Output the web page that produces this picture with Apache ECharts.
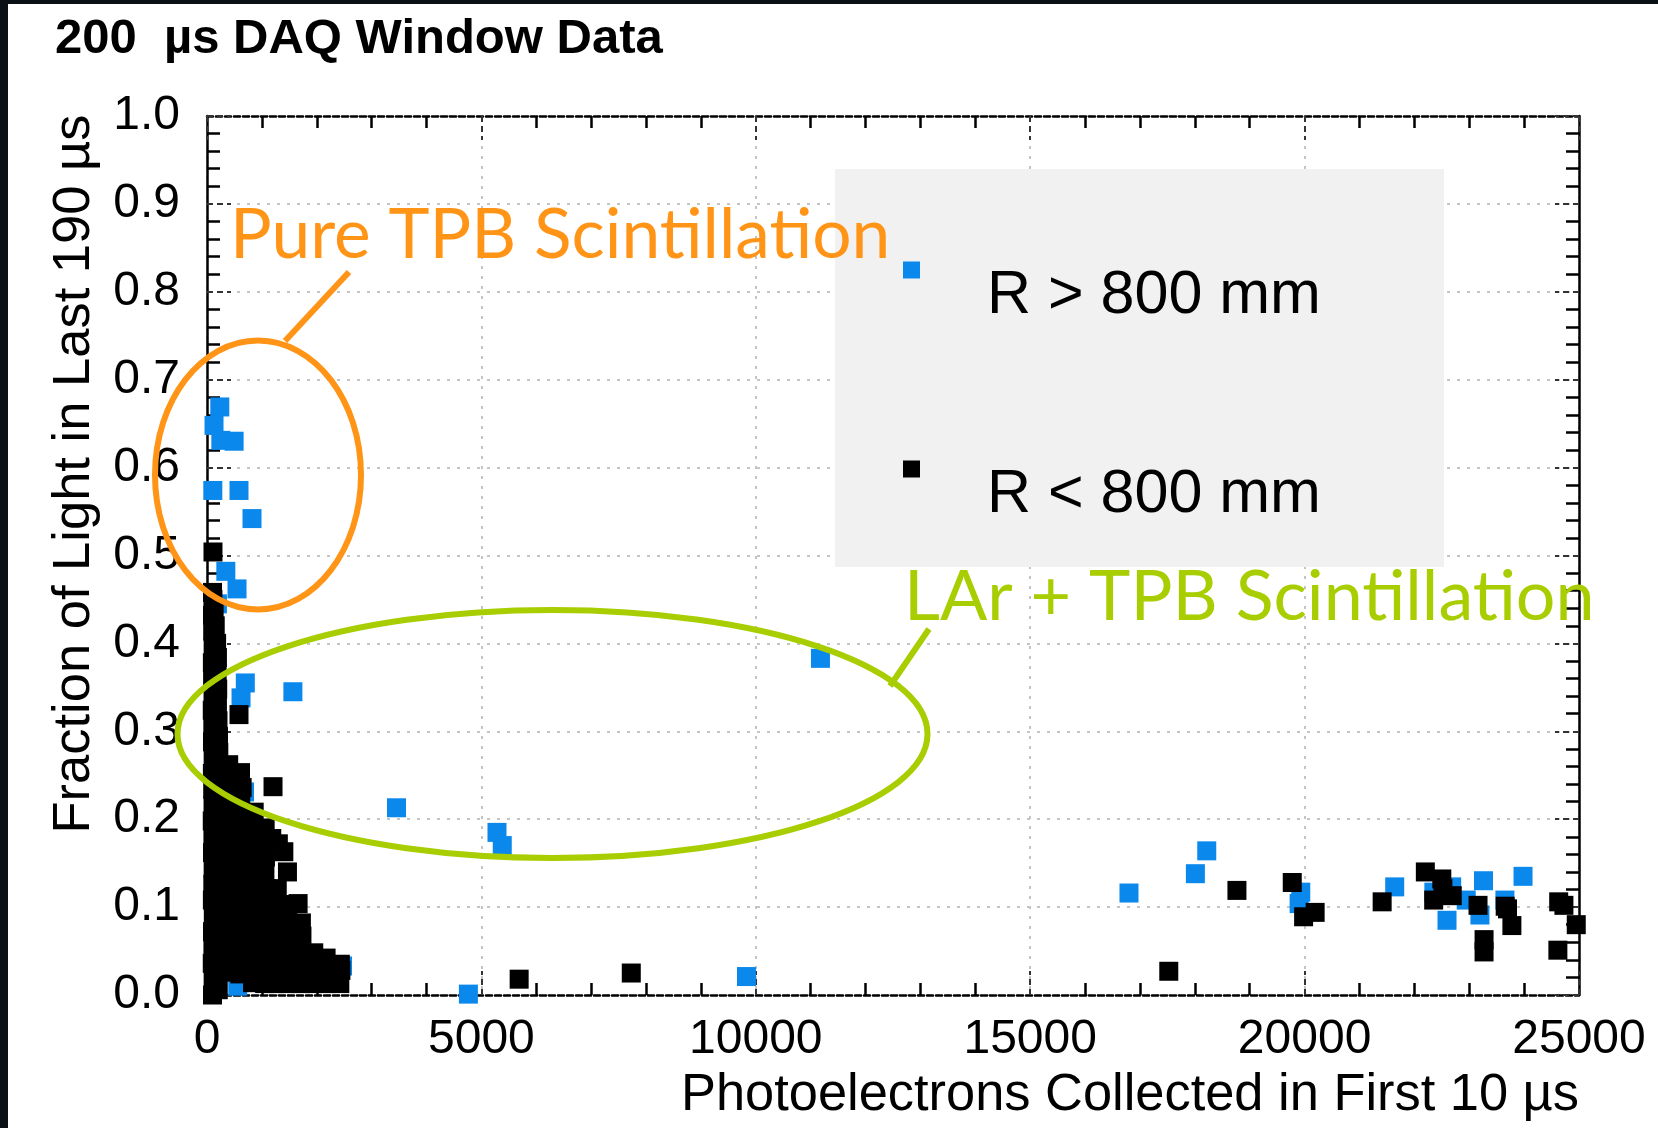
<!DOCTYPE html>
<html>
<head>
<meta charset="utf-8">
<script src="https://cdn.jsdelivr.net/npm/echarts@6/dist/echarts.min.js"></script>
<style>
html,body{margin:0;padding:0;background:#0b1014;}
#bg{position:absolute;left:8px;top:4px;right:0;bottom:0;background:#fff;}
#chart{position:absolute;left:0;top:0;width:1658px;height:1128px;}
</style>
</head>
<body>
<div id="bg"></div>
<div id="chart"></div>
<script>
// ---- data (x: photoelectrons in first 10 us, y: fraction of light in last 190 us) ----
const titleText = '200  µs DAQ Window Data';
const xTitle = 'Photoelectrons Collected in First 10 µs';
const yTitle = 'Fraction of Light in Last 190 µs';
const seriesNames = ['R > 800 mm', 'R < 800 mm'];
const xTicks = [0, 5000, 10000, 15000, 20000, 25000];
const yTicks = [0.0, 0.1, 0.2, 0.3, 0.4, 0.5, 0.6, 0.7, 0.8, 0.9, 1.0];
const annotations = ['Pure TPB Scintillation', 'LAr + TPB Scintillation'];

// R > 800 mm (blue)
const outerPoints = [
  [233,0.669],[128,0.648],[252,0.631],[494,0.630],[106,0.574],[583,0.574],[820,0.542],
  [343,0.482],[547,0.462],[190,0.445],
  [698,0.355],[620,0.338],[1565,0.345],
  [683,0.231],[1126,0.177],[1048,0.151],[2150,0.040],[2469,0.033],[560,0.010],
  [3453,0.213],[5284,0.185],[5380,0.170],[4763,0.001],[9830,0.021],[11178,0.383],
  [16800,0.116],[18010,0.138],[18217,0.164],
  [19930,0.117],[19900,0.104],[21642,0.123],
  [22680,0.123],[22355,0.117],[22595,0.085],[22945,0.108],[23195,0.091],
  [23260,0.130],[23650,0.108],[23980,0.135]
];

// R < 800 mm (black) — isolated events
const innerIsolated = [
  [109,0.504],[583,0.319],[610,0.253],[1203,0.237],
  [5688,0.018],[7731,0.025],[17525,0.027],
  [18767,0.119],[19775,0.128],[19982,0.089],[20192,0.094],[21413,0.106],
  [22200,0.140],[22500,0.132],[22352,0.108],[22690,0.113],[22520,0.121],
  [23160,0.102],[23270,0.063],[23270,0.049],[23655,0.101],[23697,0.098],[23777,0.079],
  [24630,0.106],[24725,0.102],[24615,0.051],[24950,0.080]
];

// R < 800 mm (black) — dense low-PE band, read column by column
const innerBand = [
  [100,0.000],[112,0.018],[96,0.036],[108,0.054],[100,0.072],[115,0.090],[98,0.108],[106,0.126],
  [112,0.144],[100,0.162],[108,0.180],[96,0.198],[110,0.216],[104,0.234],[98,0.252],[112,0.270],
  [100,0.288],[106,0.306],[96,0.324],[110,0.342],[102,0.360],[98,0.378],[112,0.396],[104,0.414],
  [100,0.432],[108,0.450],[100,0.458],
  [205,0.006],[190,0.024],[215,0.042],[200,0.060],[185,0.078],[210,0.096],[195,0.114],[220,0.132],
  [205,0.150],[190,0.168],[215,0.186],[200,0.204],[210,0.222],[195,0.240],[205,0.258],[215,0.276],
  [210,0.294],[200,0.312],[190,0.330],[195,0.348],[185,0.366],[190,0.384],[175,0.400],[150,0.420],
  [130,0.440],
  [390,0.026],[410,0.044],[380,0.062],[420,0.080],[400,0.098],[385,0.116],[415,0.134],[395,0.152],
  [405,0.170],[390,0.188],[420,0.206],[400,0.224],[380,0.242],[395,0.262],
  [600,0.024],[630,0.042],[615,0.060],[640,0.078],[605,0.096],[625,0.114],[610,0.132],[635,0.150],
  [620,0.168],[600,0.186],[630,0.204],[615,0.222],[640,0.236],
  [830,0.014],[850,0.032],[820,0.050],[860,0.068],[840,0.086],[825,0.104],[855,0.122],[835,0.140],
  [850,0.158],[820,0.176],[845,0.194],[860,0.208],
  [1050,0.013],[1070,0.031],[1040,0.049],[1080,0.067],[1060,0.085],[1045,0.103],[1075,0.121],
  [1055,0.139],[1065,0.157],[1050,0.175],[1060,0.190],
  [1260,0.013],[1285,0.031],[1255,0.049],[1290,0.067],[1270,0.085],[1250,0.103],[1280,0.121],
  [1180,0.178],[1300,0.172],[1400,0.163],[1466,0.140],
  [1460,0.013],[1480,0.031],[1450,0.049],[1490,0.067],[1470,0.085],[1455,0.103],
  [1710,0.013],[1735,0.031],[1700,0.049],[1730,0.067],[1720,0.082],[1660,0.104],
  [1940,0.013],[1960,0.031],[1945,0.048],
  [2180,0.013],[2200,0.030],[2170,0.042],
  [2420,0.013],[2440,0.028],[2430,0.035]
];
const innerPoints = innerBand.concat(innerIsolated);

// ---- styling ----
const BLUE = '#0a88ec';
const ORANGE = '#ff9416';
const GREEN = '#a8cd00';
const FONT = "'Liberation Sans', Arial, Helvetica, sans-serif";
const GRID = {left: 207, top: 116, width: 1372, height: 879};
// legend icon: square sitting above the text's centre line
const LEGEND_ICON = 'path://M0,0L17,0L17,17L0,17Z M0,69L0.01,69L0,69Z';

const chart = echarts.init(document.getElementById('chart'), null, {renderer: 'canvas'});

function mainAxis(extra) {
  return Object.assign({
    type: 'value',
    axisLine: {show: true, onZero: false, lineStyle: {color: '#000', width: 2.5}},
    axisTick: {show: true, inside: true, length: 24, lineStyle: {color: '#333', width: 2, type: [6, 4]}},
    minorTick: {show: true, splitNumber: 5, length: 12, lineStyle: {color: '#000', width: 2.5}},
    splitLine: {show: true, lineStyle: {color: '#c4c4c4', width: 2, type: [3, 7]}},
    minorSplitLine: {show: false}
  }, extra);
}

const legendText = {fontFamily: FONT, fontSize: 61, color: '#000', padding: [0, 0, 0, 62]};

const option = {
  animation: false,
  backgroundColor: 'transparent',
  title: {
    text: titleText, left: 50, top: 10,
    textStyle: {fontFamily: FONT, fontSize: 49, fontWeight: 'bold', color: '#000'}
  },
  grid: Object.assign({containLabel: false}, GRID),
  xAxis: [
    mainAxis({
      position: 'bottom', min: xTicks[0], max: xTicks[xTicks.length - 1], interval: 5000,
      axisLine: {show: true, onZero: false, lineStyle: {color: '#000', width: 2.5, type: [6, 3]}},
      axisLabel: {show: true, margin: 21, color: '#000', fontFamily: FONT, fontSize: 48,
        formatter: v => String(v)}
    }),
    mainAxis({
      position: 'top', min: xTicks[0], max: xTicks[xTicks.length - 1], interval: 5000,
      axisLine: {show: true, onZero: false, lineStyle: {color: '#000', width: 2.5, type: [6, 3]}},
      axisLabel: {show: false}, splitLine: {show: false}
    })
  ],
  yAxis: [
    mainAxis({
      position: 'left', min: yTicks[0], max: yTicks[yTicks.length - 1], interval: 0.1,
      minorTick: {show: true, splitNumber: 5, length: 13, lineStyle: {color: '#000', width: 2.5}},
      axisLabel: {show: true, margin: 27, color: '#000', fontFamily: FONT, fontSize: 48,
        formatter: v => v.toFixed(1)}
    }),
    mainAxis({
      position: 'right', min: yTicks[0], max: yTicks[yTicks.length - 1], interval: 0.1,
      minorTick: {show: true, splitNumber: 5, length: 13, lineStyle: {color: '#000', width: 2.5}},
      axisLabel: {show: false}, splitLine: {show: false}
    })
  ],
  legend: [
    {
      data: [seriesNames[0]], left: 903, top: 261.5, padding: 0, orient: 'vertical',
      icon: LEGEND_ICON, itemWidth: 17, itemHeight: 69, selectedMode: false,
      textStyle: legendText
    },
    {
      data: [seriesNames[1]], left: 903, top: 460.5, padding: 0, orient: 'vertical',
      icon: LEGEND_ICON, itemWidth: 17, itemHeight: 69, selectedMode: false,
      textStyle: legendText
    }
  ],
  graphic: [
    {type: 'rect', z: 1, silent: true,
      shape: {x: 835, y: 169, width: 609, height: 398}, style: {fill: '#f1f1f1'}},
    {type: 'ellipse', z: 20, silent: true,
      shape: {cx: 258, cy: 475, rx: 103, ry: 134.5}, style: {fill: 'none', stroke: ORANGE, lineWidth: 6}},
    {type: 'line', z: 20, silent: true,
      shape: {x1: 285, y1: 341, x2: 349, y2: 272}, style: {stroke: ORANGE, lineWidth: 6}},
    {type: 'ellipse', z: 20, silent: true,
      shape: {cx: 552.5, cy: 734, rx: 375, ry: 124}, style: {fill: 'none', stroke: GREEN, lineWidth: 6}},
    {type: 'line', z: 20, silent: true,
      shape: {x1: 890, y1: 686, x2: 929, y2: 629}, style: {stroke: GREEN, lineWidth: 6}},
    {type: 'text', z: 20, silent: true,
      style: {text: annotations[0], x: 230, y: 236, fill: ORANGE, font: "69.5px Lato, 'Open Sans', sans-serif",
        textAlign: 'left', textVerticalAlign: 'middle'}},
    {type: 'text', z: 20, silent: true,
      style: {text: annotations[1], x: 904, y: 597, fill: GREEN, font: "70px Lato, 'Open Sans', sans-serif",
        textAlign: 'left', textVerticalAlign: 'middle'}},
    {type: 'text', z: 20, silent: true, rotation: Math.PI / 2, x: 75, y: 474,
      style: {text: yTitle, x: 0, y: 0, fill: '#000', font: "52.5px 'Liberation Sans', Arial, sans-serif",
        textAlign: 'center', textVerticalAlign: 'middle'}},
    {type: 'text', z: 20, silent: true,
      style: {text: xTitle, x: 1579, y: 1096, fill: '#000', font: "52.4px 'Liberation Sans', Arial, sans-serif",
        textAlign: 'right', textVerticalAlign: 'middle'}}
  ],
  series: [
    {
      name: seriesNames[0], type: 'scatter', xAxisIndex: 0, yAxisIndex: 0,
      symbol: 'rect', symbolSize: 19, itemStyle: {color: BLUE, opacity: 1},
      data: outerPoints, z: 3
    },
    {
      name: seriesNames[1], type: 'scatter', xAxisIndex: 0, yAxisIndex: 0,
      symbol: 'rect', symbolSize: 19, itemStyle: {color: '#000', opacity: 1},
      data: innerPoints, z: 4
    }
  ]
};
chart.setOption(option);
</script>
</body>
</html>
